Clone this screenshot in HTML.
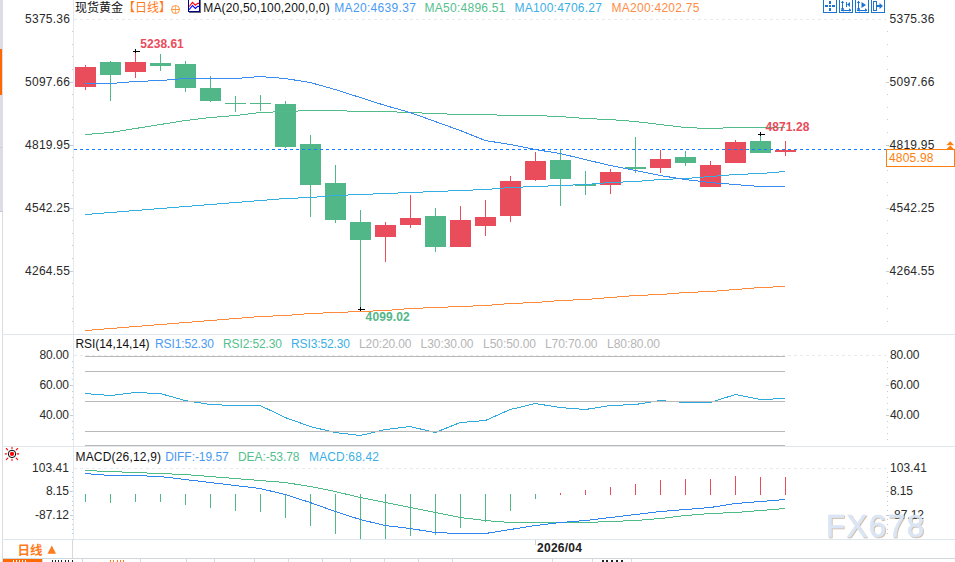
<!DOCTYPE html>
<html lang="zh-CN"><head><meta charset="utf-8"><title>现货黄金 日线</title>
<style>html,body{margin:0;padding:0;background:#fff;overflow:hidden}svg{display:block}</style>
</head><body>
<svg width="955" height="562" viewBox="0 0 955 562" font-family='"Liberation Sans","Noto Sans CJK SC",sans-serif' font-size="12">
<rect width="955" height="562" fill="#fff"/>
<g shape-rendering="crispEdges">
<rect x="0" y="0" width="3" height="211" fill="#dcdde8"/>
<rect x="0" y="49" width="2" height="46" fill="#ff6a00"/>
<rect x="2" y="211" width="1" height="351" fill="#d9dde3"/><rect x="0" y="211" width="3" height="1" fill="#c4c7d2"/>
<rect x="0" y="147" width="3" height="1" fill="#cfd2dc"/>
<rect x="2" y="334" width="953" height="1" fill="#dfe6ec"/>
<rect x="2" y="446" width="953" height="1" fill="#dfe6ec"/>
<rect x="2" y="539" width="953" height="1" fill="#dfe6ec"/>
<rect x="2" y="558" width="953" height="1" fill="#cfd7df"/>
<rect x="73" y="0" width="1" height="539" fill="#e2e8ef"/>
<rect x="72" y="539" width="1" height="20" fill="#d5dae0"/>
</g>
<g shape-rendering="crispEdges" fill="#c3cbd4">
<rect x="72" y="31" width="1" height="1"/>
<rect x="887" y="31" width="1" height="1"/>
<rect x="72" y="44" width="1" height="1"/>
<rect x="887" y="44" width="1" height="1"/>
<rect x="72" y="56" width="1" height="1"/>
<rect x="887" y="56" width="1" height="1"/>
<rect x="72" y="69" width="1" height="1"/>
<rect x="887" y="69" width="1" height="1"/>
<rect x="70" y="82" width="3" height="1"/>
<rect x="886" y="82" width="3" height="1"/>
<rect x="72" y="94" width="1" height="1"/>
<rect x="887" y="94" width="1" height="1"/>
<rect x="72" y="107" width="1" height="1"/>
<rect x="887" y="107" width="1" height="1"/>
<rect x="72" y="119" width="1" height="1"/>
<rect x="887" y="119" width="1" height="1"/>
<rect x="72" y="132" width="1" height="1"/>
<rect x="887" y="132" width="1" height="1"/>
<rect x="70" y="145" width="3" height="1"/>
<rect x="886" y="145" width="3" height="1"/>
<rect x="72" y="157" width="1" height="1"/>
<rect x="887" y="157" width="1" height="1"/>
<rect x="72" y="170" width="1" height="1"/>
<rect x="887" y="170" width="1" height="1"/>
<rect x="72" y="182" width="1" height="1"/>
<rect x="887" y="182" width="1" height="1"/>
<rect x="72" y="195" width="1" height="1"/>
<rect x="887" y="195" width="1" height="1"/>
<rect x="70" y="208" width="3" height="1"/>
<rect x="886" y="208" width="3" height="1"/>
<rect x="72" y="220" width="1" height="1"/>
<rect x="887" y="220" width="1" height="1"/>
<rect x="72" y="233" width="1" height="1"/>
<rect x="887" y="233" width="1" height="1"/>
<rect x="72" y="245" width="1" height="1"/>
<rect x="887" y="245" width="1" height="1"/>
<rect x="72" y="258" width="1" height="1"/>
<rect x="887" y="258" width="1" height="1"/>
<rect x="70" y="271" width="3" height="1"/>
<rect x="886" y="271" width="3" height="1"/>
<rect x="72" y="283" width="1" height="1"/>
<rect x="887" y="283" width="1" height="1"/>
<rect x="72" y="296" width="1" height="1"/>
<rect x="887" y="296" width="1" height="1"/>
<rect x="72" y="308" width="1" height="1"/>
<rect x="887" y="308" width="1" height="1"/>
<rect x="72" y="321" width="1" height="1"/>
<rect x="887" y="321" width="1" height="1"/>
<rect x="72" y="361" width="1" height="1"/>
<rect x="887" y="361" width="1" height="1"/>
<rect x="72" y="367" width="1" height="1"/>
<rect x="887" y="367" width="1" height="1"/>
<rect x="72" y="373" width="1" height="1"/>
<rect x="887" y="373" width="1" height="1"/>
<rect x="72" y="379" width="1" height="1"/>
<rect x="887" y="379" width="1" height="1"/>
<rect x="70" y="385" width="3" height="1"/>
<rect x="886" y="385" width="3" height="1"/>
<rect x="72" y="391" width="1" height="1"/>
<rect x="887" y="391" width="1" height="1"/>
<rect x="72" y="397" width="1" height="1"/>
<rect x="887" y="397" width="1" height="1"/>
<rect x="72" y="403" width="1" height="1"/>
<rect x="887" y="403" width="1" height="1"/>
<rect x="72" y="409" width="1" height="1"/>
<rect x="887" y="409" width="1" height="1"/>
<rect x="70" y="415" width="3" height="1"/>
<rect x="886" y="415" width="3" height="1"/>
<rect x="72" y="421" width="1" height="1"/>
<rect x="887" y="421" width="1" height="1"/>
<rect x="72" y="427" width="1" height="1"/>
<rect x="887" y="427" width="1" height="1"/>
<rect x="72" y="433" width="1" height="1"/>
<rect x="887" y="433" width="1" height="1"/>
<rect x="72" y="439" width="1" height="1"/>
<rect x="887" y="439" width="1" height="1"/>
<rect x="72" y="472" width="1" height="1"/>
<rect x="887" y="472" width="1" height="1"/>
<rect x="72" y="477" width="1" height="1"/>
<rect x="887" y="477" width="1" height="1"/>
<rect x="72" y="482" width="1" height="1"/>
<rect x="887" y="482" width="1" height="1"/>
<rect x="72" y="486" width="1" height="1"/>
<rect x="887" y="486" width="1" height="1"/>
<rect x="70" y="491" width="3" height="1"/>
<rect x="886" y="491" width="3" height="1"/>
<rect x="72" y="496" width="1" height="1"/>
<rect x="887" y="496" width="1" height="1"/>
<rect x="72" y="501" width="1" height="1"/>
<rect x="887" y="501" width="1" height="1"/>
<rect x="72" y="505" width="1" height="1"/>
<rect x="887" y="505" width="1" height="1"/>
<rect x="72" y="510" width="1" height="1"/>
<rect x="887" y="510" width="1" height="1"/>
<rect x="70" y="515" width="3" height="1"/>
<rect x="886" y="515" width="3" height="1"/>
<rect x="72" y="519" width="1" height="1"/>
<rect x="887" y="519" width="1" height="1"/>
<rect x="72" y="524" width="1" height="1"/>
<rect x="887" y="524" width="1" height="1"/>
<rect x="72" y="529" width="1" height="1"/>
<rect x="887" y="529" width="1" height="1"/>
<rect x="72" y="533" width="1" height="1"/>
<rect x="887" y="533" width="1" height="1"/>
</g>
<g shape-rendering="crispEdges" stroke="#e7ebf1" stroke-width="1" stroke-dasharray="3 3">
<line x1="74" y1="19.5" x2="886" y2="19.5"/>
<line x1="74" y1="355.5" x2="886" y2="355.5"/>
<line x1="74" y1="468.5" x2="886" y2="468.5"/>
</g>
<g shape-rendering="crispEdges">
<rect x="85" y="65" width="1" height="25" fill="#e94c5b"/>
<rect x="75" y="67" width="21" height="20" fill="#e94c5b"/>
<rect x="110" y="61" width="1" height="40" fill="#52b788"/>
<rect x="100" y="62" width="21" height="13" fill="#52b788"/>
<rect x="135" y="53" width="1" height="25" fill="#e94c5b"/>
<rect x="125" y="62" width="21" height="10" fill="#e94c5b"/>
<rect x="160" y="54" width="1" height="17" fill="#52b788"/>
<rect x="150" y="63" width="21" height="3" fill="#52b788"/>
<rect x="185" y="61" width="1" height="31" fill="#52b788"/>
<rect x="175" y="64" width="21" height="24" fill="#52b788"/>
<rect x="210" y="76" width="1" height="26" fill="#52b788"/>
<rect x="200" y="88" width="21" height="13" fill="#52b788"/>
<rect x="235" y="96" width="1" height="16" fill="#52b788"/>
<rect x="225" y="103" width="21" height="1" fill="#52b788"/>
<rect x="260" y="95" width="1" height="16" fill="#52b788"/>
<rect x="250" y="103" width="21" height="1" fill="#52b788"/>
<rect x="285" y="101" width="1" height="47" fill="#52b788"/>
<rect x="275" y="104" width="21" height="43" fill="#52b788"/>
<rect x="310" y="135" width="1" height="82" fill="#52b788"/>
<rect x="300" y="144" width="21" height="41" fill="#52b788"/>
<rect x="335" y="165" width="1" height="58" fill="#52b788"/>
<rect x="325" y="183" width="21" height="37" fill="#52b788"/>
<rect x="360" y="210" width="1" height="97" fill="#52b788"/>
<rect x="350" y="222" width="21" height="18" fill="#52b788"/>
<rect x="385" y="222" width="1" height="40" fill="#e94c5b"/>
<rect x="375" y="225" width="21" height="12" fill="#e94c5b"/>
<rect x="410" y="195" width="1" height="33" fill="#e94c5b"/>
<rect x="400" y="218" width="21" height="7" fill="#e94c5b"/>
<rect x="435" y="208" width="1" height="44" fill="#52b788"/>
<rect x="425" y="216" width="21" height="31" fill="#52b788"/>
<rect x="460" y="206" width="1" height="41" fill="#e94c5b"/>
<rect x="450" y="220" width="21" height="27" fill="#e94c5b"/>
<rect x="485" y="200" width="1" height="36" fill="#e94c5b"/>
<rect x="475" y="217" width="21" height="9" fill="#e94c5b"/>
<rect x="510" y="176" width="1" height="46" fill="#e94c5b"/>
<rect x="500" y="181" width="21" height="35" fill="#e94c5b"/>
<rect x="535" y="152" width="1" height="29" fill="#e94c5b"/>
<rect x="525" y="161" width="21" height="19" fill="#e94c5b"/>
<rect x="560" y="149" width="1" height="57" fill="#52b788"/>
<rect x="550" y="160" width="21" height="19" fill="#52b788"/>
<rect x="585" y="171" width="1" height="24" fill="#52b788"/>
<rect x="575" y="184" width="21" height="2" fill="#52b788"/>
<rect x="610" y="169" width="1" height="25" fill="#e94c5b"/>
<rect x="600" y="172" width="21" height="13" fill="#e94c5b"/>
<rect x="635" y="137" width="1" height="36" fill="#52b788"/>
<rect x="625" y="167" width="21" height="2" fill="#52b788"/>
<rect x="660" y="150" width="1" height="23" fill="#e94c5b"/>
<rect x="650" y="159" width="21" height="9" fill="#e94c5b"/>
<rect x="685" y="151" width="1" height="15" fill="#52b788"/>
<rect x="675" y="157" width="21" height="6" fill="#52b788"/>
<rect x="710" y="161" width="1" height="26" fill="#e94c5b"/>
<rect x="700" y="165" width="21" height="22" fill="#e94c5b"/>
<rect x="735" y="140" width="1" height="23" fill="#e94c5b"/>
<rect x="725" y="142" width="21" height="21" fill="#e94c5b"/>
<rect x="760" y="136" width="1" height="17" fill="#52b788"/>
<rect x="750" y="141" width="21" height="12" fill="#52b788"/>
<rect x="785" y="141" width="1" height="15" fill="#e94c5b"/>
<rect x="775" y="150" width="21" height="2" fill="#e94c5b"/>
</g>
<polyline points="85.25,330.53 110.25,328.53 135.25,326.53 160.25,324.53 185.25,322.53 210.25,320.53 235.25,318.53 260.25,316.53 285.25,315.53 310.25,313.53 335.25,312.53 360.25,311.53 385.25,310.53 410.25,308.53 435.25,307.53 460.25,306.53 485.25,305.53 510.25,303.53 535.25,302.53 560.25,300.53 585.25,299.53 610.25,297.53 635.25,295.53 660.25,294.53 685.25,292.53 710.25,291.53 735.25,289.53 760.25,287.53 785.25,286.53" fill="none" stroke="#ff8a3c" stroke-width="1" stroke-linejoin="round" shape-rendering="crispEdges" />
<polyline points="85.25,214.53 110.25,212.53 135.25,210.53 160.25,208.53 185.25,206.53 210.25,204.53 235.25,202.53 260.25,200.53 285.25,198.53 310.25,197.53 335.25,195.53 360.25,194.53 385.25,193.53 410.25,192.53 435.25,191.53 460.25,190.53 485.25,189.53 510.25,187.53 535.25,186.53 560.25,185.53 585.25,184.53 610.25,182.53 635.25,181.53 660.25,179.53 685.25,178.53 710.25,176.53 735.25,174.53 760.25,173.53 785.25,171.53" fill="none" stroke="#35aee2" stroke-width="1" stroke-linejoin="round" shape-rendering="crispEdges" />
<polyline points="85.25,134.53 110.25,132.53 135.25,128.53 160.25,124.53 185.25,120.53 210.25,117.53 235.25,115.53 260.25,112.53 285.25,111.53 310.25,110.53 335.25,110.53 360.25,111.53 385.25,111.53 410.25,112.53 435.25,113.53 460.25,114.53 485.25,114.53 510.25,115.53 535.25,115.53 560.25,116.53 585.25,118.53 610.25,119.53 635.25,121.53 660.25,124.53 685.25,127.53 710.25,128.53 735.25,127.53 760.25,127.53 785.25,127.53" fill="none" stroke="#52bd8a" stroke-width="1" stroke-linejoin="round" shape-rendering="crispEdges" />
<polyline points="85.25,83.53 110.25,83.53 135.25,81.53 160.25,80.53 185.25,78.53 210.25,78.53 235.25,78.53 260.25,76.53 285.25,78.53 310.25,82.53 335.25,89.53 360.25,97.53 385.25,105.53 410.25,112.53 435.25,121.53 460.25,130.53 485.25,140.53 510.25,144.53 535.25,149.53 560.25,153.53 585.25,159.53 610.25,165.53 635.25,170.53 660.25,175.53 685.25,179.53 710.25,182.53 735.25,184.53 760.25,186.53 785.25,186.53" fill="none" stroke="#3a8cf0" stroke-width="1" stroke-linejoin="round" shape-rendering="crispEdges" />
<line x1="74" y1="149.5" x2="886" y2="149.5" stroke="#0f7fff" stroke-width="1" stroke-dasharray="3 3" shape-rendering="crispEdges"/>
<polyline points="85.25,393.53 110.25,395.53 135.25,392.53 160.25,393.53 185.25,400.53 210.25,404.53 235.25,405.53 260.25,405.53 285.25,417.53 310.25,426.53 335.25,432.53 360.25,435.53 385.25,429.53 410.25,426.53 435.25,432.53 460.25,422.53 485.25,420.53 510.25,409.53 535.25,403.53 560.25,407.53 585.25,409.53 610.25,405.53 635.25,404.53 660.25,400.53 685.25,402.53 710.25,402.53 735.25,394.53 760.25,399.53 785.25,398.53" fill="none" stroke="#2fa9de" stroke-width="1" stroke-linejoin="round" shape-rendering="crispEdges" />
<g shape-rendering="crispEdges" fill="#b9b9b9">
<rect x="85" y="356" width="700" height="1"/>
<rect x="85" y="371" width="700" height="1"/>
<rect x="85" y="401" width="700" height="1"/>
<rect x="85" y="431" width="700" height="1"/>
<rect x="85" y="445" width="700" height="1"/>
</g>
<g shape-rendering="crispEdges">
<rect x="85" y="494" width="1" height="8" fill="#52b788"/>
<rect x="110" y="494" width="1" height="9" fill="#52b788"/>
<rect x="135" y="494" width="1" height="8" fill="#52b788"/>
<rect x="160" y="494" width="1" height="8" fill="#52b788"/>
<rect x="185" y="494" width="1" height="11" fill="#52b788"/>
<rect x="210" y="494" width="1" height="14" fill="#52b788"/>
<rect x="235" y="494" width="1" height="17" fill="#52b788"/>
<rect x="260" y="494" width="1" height="18" fill="#52b788"/>
<rect x="285" y="494" width="1" height="24" fill="#52b788"/>
<rect x="310" y="494" width="1" height="32" fill="#52b788"/>
<rect x="335" y="494" width="1" height="40" fill="#52b788"/>
<rect x="360" y="494" width="1" height="45" fill="#52b788"/>
<rect x="385" y="494" width="1" height="45" fill="#52b788"/>
<rect x="410" y="494" width="1" height="42" fill="#52b788"/>
<rect x="435" y="494" width="1" height="41" fill="#52b788"/>
<rect x="460" y="494" width="1" height="34" fill="#52b788"/>
<rect x="485" y="494" width="1" height="28" fill="#52b788"/>
<rect x="510" y="494" width="1" height="17" fill="#52b788"/>
<rect x="535" y="494" width="1" height="5" fill="#52b788"/>
<rect x="560" y="493" width="1" height="2" fill="#e94c5b"/>
<rect x="585" y="490" width="1" height="5" fill="#e94c5b"/>
<rect x="610" y="487" width="1" height="8" fill="#e94c5b"/>
<rect x="635" y="484" width="1" height="11" fill="#e94c5b"/>
<rect x="660" y="480" width="1" height="15" fill="#e94c5b"/>
<rect x="685" y="479" width="1" height="16" fill="#e94c5b"/>
<rect x="710" y="479" width="1" height="16" fill="#e94c5b"/>
<rect x="735" y="476" width="1" height="19" fill="#e94c5b"/>
<rect x="760" y="477" width="1" height="18" fill="#e94c5b"/>
<rect x="785" y="477" width="1" height="18" fill="#e94c5b"/>
</g>
<polyline points="85.25,470.53 110.25,471.53 135.25,472.53 160.25,473.53 185.25,474.53 210.25,476.53 235.25,478.53 260.25,480.53 285.25,482.53 310.25,486.53 335.25,491.53 360.25,497.53 385.25,502.53 410.25,507.53 435.25,512.53 460.25,517.53 485.25,520.53 510.25,522.53 535.25,522.53 560.25,522.53 585.25,522.53 610.25,521.53 635.25,520.53 660.25,518.53 685.25,515.53 710.25,513.53 735.25,512.53 760.25,510.53 785.25,508.53" fill="none" stroke="#4dbb85" stroke-width="1" stroke-linejoin="round" shape-rendering="crispEdges" />
<polyline points="85.25,473.53 110.25,475.53 135.25,475.53 160.25,476.53 185.25,479.53 210.25,482.53 235.25,485.53 260.25,488.53 285.25,494.53 310.25,502.53 335.25,511.53 360.25,519.53 385.25,525.53 410.25,528.53 435.25,532.53 460.25,533.53 485.25,533.53 510.25,529.53 535.25,525.53 560.25,522.53 585.25,520.53 610.25,517.53 635.25,514.53 660.25,511.53 685.25,509.53 710.25,507.53 735.25,503.53 760.25,501.53 785.25,499.53" fill="none" stroke="#2f86ee" stroke-width="1" stroke-linejoin="round" shape-rendering="crispEdges" />
<text x="25" y="23" fill="#2a2a2a" textLength="45" lengthAdjust="spacing" >5375.36</text>
<text x="889.5" y="23" fill="#2a2a2a" textLength="45" lengthAdjust="spacing" >5375.36</text>
<text x="25" y="86" fill="#2a2a2a" textLength="45" lengthAdjust="spacing" >5097.66</text>
<text x="889.5" y="86" fill="#2a2a2a" textLength="45" lengthAdjust="spacing" >5097.66</text>
<text x="25" y="149" fill="#2a2a2a" textLength="45" lengthAdjust="spacing" >4819.95</text>
<text x="889.5" y="149" fill="#2a2a2a" textLength="45" lengthAdjust="spacing" >4819.95</text>
<text x="25" y="212" fill="#2a2a2a" textLength="45" lengthAdjust="spacing" >4542.25</text>
<text x="889.5" y="212" fill="#2a2a2a" textLength="45" lengthAdjust="spacing" >4542.25</text>
<text x="25" y="275" fill="#2a2a2a" textLength="45" lengthAdjust="spacing" >4264.55</text>
<text x="889.5" y="275" fill="#2a2a2a" textLength="45" lengthAdjust="spacing" >4264.55</text>
<text x="39.5" y="359" fill="#2a2a2a" textLength="29.5" lengthAdjust="spacing" >80.00</text>
<text x="890" y="359" fill="#2a2a2a" textLength="29.5" lengthAdjust="spacing" >80.00</text>
<text x="39.5" y="389" fill="#2a2a2a" textLength="29.5" lengthAdjust="spacing" >60.00</text>
<text x="890" y="389" fill="#2a2a2a" textLength="29.5" lengthAdjust="spacing" >60.00</text>
<text x="39.5" y="419" fill="#2a2a2a" textLength="29.5" lengthAdjust="spacing" >40.00</text>
<text x="890" y="419" fill="#2a2a2a" textLength="29.5" lengthAdjust="spacing" >40.00</text>
<text x="32" y="472" fill="#2a2a2a" textLength="37" lengthAdjust="spacing" >103.41</text>
<text x="890" y="472" fill="#2a2a2a" textLength="37" lengthAdjust="spacing" >103.41</text>
<text x="46" y="495" fill="#2a2a2a" textLength="23" lengthAdjust="spacing" >8.15</text>
<text x="890" y="495" fill="#2a2a2a" textLength="23" lengthAdjust="spacing" >8.15</text>
<text x="35" y="519" fill="#2a2a2a" textLength="34" lengthAdjust="spacing" >-87.12</text>
<text x="890" y="519" fill="#2a2a2a" textLength="34" lengthAdjust="spacing" >-87.12</text>
<text x="75" y="12" fill="#111" >现货黄金</text>
<text x="123" y="12" fill="#ff7a1a" >【日线】</text>
<g fill="none" stroke="#ff8a24" stroke-width="0.9"><circle cx="175.5" cy="9.5" r="4"/><path d="M171.5 9.5H179.5"/><path d="M175.5 5.5V13.5" stroke-opacity="0.7"/></g>
<g shape-rendering="crispEdges"><rect x="189" y="12" width="12" height="1" fill="#6a6a7a"/><rect x="200" y="0" width="1" height="13" fill="#6a6a7a"/><rect x="188" y="-2" width="12" height="14" fill="#000080"/><rect x="189" y="-2" width="10" height="13" fill="#fff"/></g>
<polyline points="189.2,6.5 192.5,2.4 195.4,5.2 197.7,3.4 199,3.4" fill="none" stroke="#ff0000" stroke-width="1.1"/>
<polyline points="189.2,9.7 192.5,5.5 195.4,8.4 197.7,6.4 199,6.4" fill="none" stroke="#0000ff" stroke-width="1.1"/>
<text x="203.2" y="11.8" fill="#111" textLength="126.5" lengthAdjust="spacing" >MA(20,50,100,200,0,0)</text>
<text x="334.3" y="11.8" fill="#4a9af2" textLength="81.6" lengthAdjust="spacing" >MA20:4639.37</text>
<text x="424.5" y="11.8" fill="#55c08e" textLength="81" lengthAdjust="spacing" >MA50:4896.51</text>
<text x="514.5" y="11.8" fill="#3cb0e4" textLength="87.4" lengthAdjust="spacing" >MA100:4706.27</text>
<text x="611.5" y="11.8" fill="#ff8c46" textLength="88" lengthAdjust="spacing" >MA200:4202.75</text>
<g shape-rendering="crispEdges" fill="none" stroke="#1a74d0" stroke-width="1">
<rect x="823.5" y="-2.5" width="13" height="15"/>
<rect x="839.5" y="-2.5" width="13" height="15"/>
<rect x="855.5" y="-2.5" width="13" height="15"/>
<rect x="871.5" y="-2.5" width="13" height="15"/>
</g>
<g shape-rendering="crispEdges" fill="#1a74d0">
<rect x="829" y="5" width="2" height="2"/><rect x="825" y="5" width="3" height="2"/><rect x="832" y="5" width="3" height="2"/><rect x="829" y="1" width="2" height="3"/><rect x="829" y="8" width="2" height="3"/>
<rect x="842" y="1" width="1" height="10"/><rect x="841" y="9.5" width="10" height="1"/><rect x="846" y="2" width="1" height="5"/>
<rect x="858" y="1" width="1" height="10"/><rect x="857" y="9.5" width="10" height="1"/>
</g>
<g fill="#1a74d0"><path d="M847 4.5L850 2V7Z"/><path d="M861.5 2L866 5L861.5 8Z"/><path d="M840.8 8.2L842.5 10.8L844.2 8.2Z"/><path d="M843.6 8.3L841 10L843.6 11.7Z"/><path d="M856.8 8.2L858.5 10.8L860.2 8.2Z"/><path d="M859.6 8.3L857 10L859.6 11.7Z"/><path d="M840.8 3L842.5 0.8L844.2 3Z"/><path d="M849 8.3L851.3 10L849 11.7Z"/><path d="M856.8 3L858.5 0.8L860.2 3Z"/><path d="M865 8.3L867.3 10L865 11.7Z"/><path d="M879.5 3L883 6L879.5 9Z"/></g>
<g fill="none" stroke="#1a74d0" shape-rendering="crispEdges"><rect x="873.5" y="1.5" width="3" height="9"/><line x1="876" y1="6" x2="880" y2="6" stroke-width="2"/></g>
<text x="140.3" y="47.7" fill="#e94c5b" textLength="43.5" lengthAdjust="spacing" font-weight="bold">5238.61</text>
<text x="765.4" y="130.9" fill="#e94c5b" textLength="44" lengthAdjust="spacing" font-weight="bold">4871.28</text>
<text x="365.6" y="320.8" fill="#52b788" textLength="44" lengthAdjust="spacing" font-weight="bold">4099.02</text>
<g fill="#000" shape-rendering="crispEdges">
<rect x="133" y="51" width="7" height="1"/><rect x="135" y="49" width="1" height="4"/>
<rect x="758" y="134" width="7" height="1"/><rect x="760" y="132" width="1" height="4"/>
<rect x="358" y="309" width="7" height="1"/><rect x="360" y="307" width="1" height="4"/>
</g>
<rect x="886.5" y="149.5" width="68" height="17" fill="#fff" stroke="#ff7f0e" stroke-width="1" shape-rendering="crispEdges"/>
<text x="889" y="161.7" fill="#ff7f0e" textLength="44.5" lengthAdjust="spacing" >4805.98</text>
<g fill="#ff7f0e"><path d="M950.2 141.2L954 145.2H946.4Z"/><path d="M950.2 145.4L953.8 149H946.6Z"/></g>
<text x="75.5" y="348" fill="#111" textLength="74" lengthAdjust="spacing" >RSI(14,14,14)</text>
<text x="155" y="348" fill="#4a9af2" textLength="59" lengthAdjust="spacing" >RSI1:52.30</text>
<text x="223" y="348" fill="#55c08e" textLength="59" lengthAdjust="spacing" >RSI2:52.30</text>
<text x="291" y="348" fill="#3cb0e4" textLength="59" lengthAdjust="spacing" >RSI3:52.30</text>
<text x="359" y="348" fill="#b5b5b5" textLength="52.5" lengthAdjust="spacing" >L20:20.00</text>
<text x="420.5" y="348" fill="#b5b5b5" textLength="53" lengthAdjust="spacing" >L30:30.00</text>
<text x="483" y="348" fill="#b5b5b5" textLength="53" lengthAdjust="spacing" >L50:50.00</text>
<text x="545" y="348" fill="#b5b5b5" textLength="52.5" lengthAdjust="spacing" >L70:70.00</text>
<text x="607" y="348" fill="#b5b5b5" textLength="53" lengthAdjust="spacing" >L80:80.00</text>
<text x="75.5" y="461" fill="#111" textLength="85.5" lengthAdjust="spacing" >MACD(26,12,9)</text>
<text x="165.2" y="461" fill="#4a9af2" textLength="63.5" lengthAdjust="spacing" >DIFF:-19.57</text>
<text x="238" y="461" fill="#55c08e" textLength="61.5" lengthAdjust="spacing" >DEA:-53.78</text>
<text x="309" y="461" fill="#3cb0e4" textLength="70" lengthAdjust="spacing" >MACD:68.42</text>
<g stroke="#ff0000" fill="none" stroke-width="1.1" stroke-linecap="round"><path d="M12 447.3v1.2M12 459.3v1.2M5.3 453.9h1.2M17.3 453.9h1.4M6.3 448.5l1.4 1.3M16.2 458.2l1.5 1.4M17.7 448.5l-1.5 1.3M7.8 458.2l-1.5 1.4"/></g><circle cx="12" cy="453.9" r="3.7" fill="#fff" stroke="#000" stroke-width="1"/><circle cx="12" cy="453.9" r="2.1" fill="#ff0000"/>
<rect x="535" y="540" width="1" height="5" fill="#c9d0d8" shape-rendering="crispEdges"/>
<text x="537" y="552" fill="#222" textLength="45" lengthAdjust="spacing" font-weight="bold">2026/04</text>
<text x="17.5" y="555" fill="#ff7a1a" font-weight="bold" font-size="12.5">日线</text>
<path d="M47.5 553.8L51.8 545.6L56 553.8Z" fill="#ff7a1a"/>
<g shape-rendering="crispEdges"><rect x="3" y="559" width="39" height="3" fill="#ff6a00"/>
<rect x="42" y="559" width="1" height="3" fill="#d5dae0"/>
<rect x="82" y="559" width="1" height="3" fill="#d5dae0"/>
<rect x="140" y="559" width="1" height="3" fill="#d5dae0"/>
<rect x="186" y="559" width="1" height="3" fill="#d5dae0"/>
<rect x="214" y="559" width="1" height="3" fill="#d5dae0"/>
<rect x="254" y="559" width="1" height="3" fill="#d5dae0"/>
<rect x="288" y="559" width="1" height="3" fill="#d5dae0"/>
<rect x="322" y="559" width="1" height="3" fill="#d5dae0"/>
<rect x="350" y="559" width="1" height="3" fill="#d5dae0"/>
<rect x="384" y="559" width="1" height="3" fill="#d5dae0"/>
<rect x="418" y="559" width="1" height="3" fill="#d5dae0"/>
<rect x="452" y="559" width="1" height="3" fill="#d5dae0"/>
<rect x="552" y="559" width="1" height="3" fill="#d5dae0"/>
<rect x="592" y="559" width="1" height="3" fill="#d5dae0"/>
<rect x="631" y="559" width="1" height="3" fill="#d5dae0"/>
<rect x="13" y="560" width="1" height="2" fill="#fff"/>
<rect x="16" y="560" width="1" height="2" fill="#fff"/>
<rect x="19" y="560" width="1" height="2" fill="#fff"/>
<rect x="22" y="560" width="1" height="2" fill="#fff"/>
<rect x="25" y="560" width="1" height="2" fill="#fff"/>
<rect x="52" y="560" width="1" height="2" fill="#222"/>
<rect x="55" y="560" width="1" height="2" fill="#222"/>
<rect x="58" y="560" width="1" height="2" fill="#222"/>
<rect x="61" y="560" width="1" height="2" fill="#222"/>
<rect x="65" y="560" width="1" height="2" fill="#222"/>
<rect x="68" y="560" width="1" height="2" fill="#222"/>
<rect x="72" y="560" width="1" height="2" fill="#222"/>
<rect x="110" y="560" width="1" height="2" fill="#ff7a1a"/>
<rect x="113" y="560" width="1" height="2" fill="#ff7a1a"/>
<rect x="117" y="560" width="1" height="2" fill="#ff7a1a"/>
<rect x="120" y="560" width="1" height="2" fill="#ff7a1a"/>
<rect x="123" y="560" width="1" height="2" fill="#ff7a1a"/>
<rect x="602" y="560" width="2" height="2" fill="#222"/>
<rect x="606" y="560" width="2" height="2" fill="#222"/>
<rect x="611" y="560" width="2" height="2" fill="#222"/>
<rect x="616" y="560" width="2" height="2" fill="#222"/>
<rect x="621" y="560" width="2" height="2" fill="#222"/>
</g>
<defs><filter id="ws" x="-5%" y="-10%" width="112%" height="125%"><feDropShadow dx="0.9" dy="0.9" stdDeviation="0.15" flood-color="#a8845e" flood-opacity="0.6"/></filter></defs>
<text x="825.7" y="537.4" font-size="31.2" letter-spacing="1.65" fill="#d9e6f5" stroke="#d9e6f5" stroke-width="0.6" opacity="0.96" filter="url(#ws)">FX678</text>
</svg>
</body></html>
